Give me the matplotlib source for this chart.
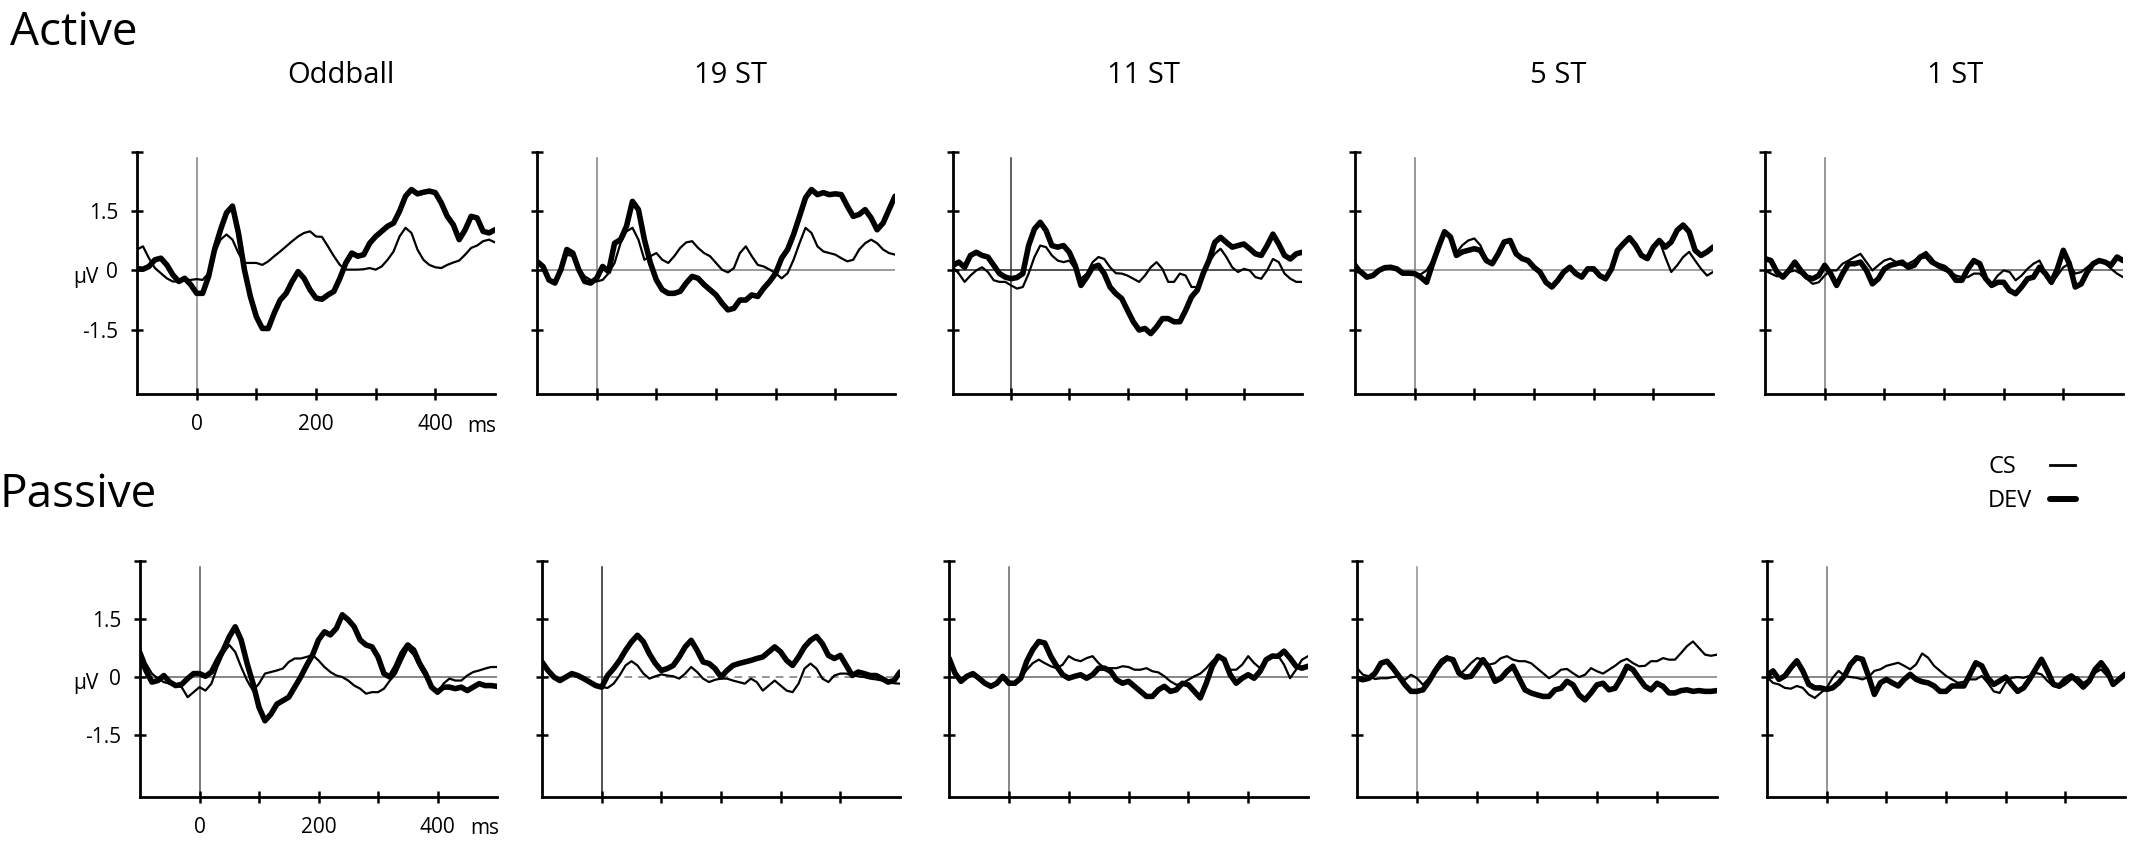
import numpy as np
import matplotlib
matplotlib.use("Agg")
import matplotlib.pyplot as plt
from matplotlib.lines import Line2D

plt.rcParams["font.family"] = ["Open Sans", "DejaVu Sans"]

W, H = 2133, 842          # output size in px (dpi 100)

# ------------------ DATA (µV, one value every 10 ms) ------------------ #
t_ms = np.arange(-100, 501, 10)
conditions = ["Oddball", "19 ST", "11 ST", "5 ST", "1 ST"]
row_names = ["Active", "Passive"]
ytick_vals = [-1.5, 0, 1.5, 3]
ytick_text = ["-1.5", "0", "1.5", ""]
xtick_vals = [0, 100, 200, 300, 400]
xtick_text = ["0", "", "200", "", "400"]

# Active
act_odd_cs = [0.53, 0.61, 0.31, 0.06, -0.07, -0.2, -0.28, -0.28, -0.24, -0.24,
              -0.22, -0.24, -0.07, 0.44, 0.78, 0.91, 0.78, 0.44, 0.19, 0.19,
              0.19, 0.14, 0.23, 0.36, 0.48, 0.61, 0.74, 0.86, 0.95, 0.99,
              0.86, 0.85, 0.61, 0.36, 0.14, 0.02, 0.02, 0.02, 0.03, 0.06,
              0.02, 0.1, 0.27, 0.48, 0.86, 1.08, 0.95, 0.53, 0.27, 0.14,
              0.08, 0.06, 0.14, 0.2, 0.25, 0.4, 0.57, 0.63, 0.74, 0.78,
              0.71]
act_odd_dev = [0.05, 0.03, 0.1, 0.27, 0.31, 0.14, -0.11, -0.28, -0.2, -0.36,
               -0.58, -0.58, -0.15, 0.53, 1.03, 1.46, 1.63, 0.95, 0.02, -0.66,
               -1.17, -1.47, -1.47, -1.08, -0.75, -0.58, -0.28, -0.03, -0.2, -0.49,
               -0.7, -0.73, -0.62, -0.53, -0.2, 0.19, 0.44, 0.36, 0.4, 0.69,
               0.86, 0.99, 1.12, 1.2, 1.5, 1.88, 2.05, 1.94, 1.98, 2.01,
               1.97, 1.71, 1.37, 1.16, 0.78, 1.03, 1.37, 1.33, 0.99, 0.95,
               1.03]
act_19_cs = [0.23, 0.1, -0.2, -0.28, 0.02, 0.4, 0.36, 0.06, -0.15, -0.24,
             -0.28, -0.24, -0.07, 0.19, 0.69, 0.99, 1.08, 0.78, 0.27, 0.36,
             0.44, 0.27, 0.19, 0.36, 0.57, 0.71, 0.74, 0.57, 0.44, 0.36,
             0.19, 0.02, -0.05, 0.06, 0.44, 0.61, 0.36, 0.14, 0.1, 0.02,
             -0.07, -0.2, -0.07, 0.27, 0.69, 1.08, 0.95, 0.61, 0.48, 0.44,
             0.4, 0.31, 0.23, 0.27, 0.53, 0.69, 0.78, 0.69, 0.53, 0.44,
             0.4]
act_19_dev = [0.23, 0.1, -0.24, -0.32, 0.02, 0.53, 0.44, 0.02, -0.28, -0.32,
              -0.2, 0.1, -0.03, 0.69, 0.78, 1.12, 1.75, 1.54, 0.78, 0.19,
              -0.24, -0.49, -0.58, -0.58, -0.53, -0.32, -0.15, -0.2, -0.36, -0.49,
              -0.62, -0.83, -1.0, -0.96, -0.75, -0.75, -0.62, -0.66, -0.45, -0.28,
              -0.07, 0.31, 0.53, 0.91, 1.37, 1.84, 2.05, 1.92, 1.97, 1.92,
              1.94, 1.92, 1.63, 1.37, 1.42, 1.54, 1.33, 1.03, 1.2, 1.54,
              1.88]
act_11_cs = [0.08, -0.08, -0.29, -0.13, 0.0, 0.08, -0.04, -0.25, -0.29, -0.29,
             -0.38, -0.46, -0.42, -0.08, 0.34, 0.63, 0.59, 0.38, 0.25, 0.21,
             0.25, 0.04, -0.21, -0.08, 0.21, 0.34, 0.29, 0.08, -0.07, -0.08,
             -0.13, -0.21, -0.29, -0.13, 0.08, 0.21, 0.04, -0.29, -0.29, -0.08,
             -0.13, -0.42, -0.42, -0.17, 0.21, 0.42, 0.55, 0.34, 0.08, -0.04,
             0.04, 0.0, -0.17, -0.21, 0.0, 0.29, 0.21, -0.08, -0.21, -0.29,
             -0.29]
act_11_dev = [0.13, 0.21, 0.08, 0.38, 0.46, 0.38, 0.34, 0.13, -0.08, -0.17,
              -0.21, -0.18, -0.08, 0.63, 1.05, 1.22, 1.01, 0.63, 0.59, 0.63,
              0.46, 0.13, -0.38, -0.17, 0.08, 0.13, -0.08, -0.42, -0.59, -0.71,
              -1.01, -1.3, -1.51, -1.47, -1.6, -1.43, -1.22, -1.22, -1.3, -1.3,
              -1.01, -0.67, -0.5, -0.08, 0.25, 0.71, 0.84, 0.71, 0.59, 0.63,
              0.67, 0.55, 0.42, 0.38, 0.63, 0.92, 0.67, 0.38, 0.29, 0.42,
              0.46]
act_5_cs = [0.2, 0.0, -0.15, -0.13, 0.0, 0.07, 0.08, 0.04, -0.07, -0.07,
            -0.08, -0.1, 0.0, 0.25, 0.62, 0.95, 0.82, 0.45, 0.64, 0.76,
            0.81, 0.64, 0.3, 0.17, 0.42, 0.7, 0.74, 0.42, 0.32, 0.25,
            0.1, -0.04, -0.28, -0.38, -0.23, -0.02, 0.1, -0.04, -0.15, 0.02,
            0.0, -0.17, -0.25, 0.02, 0.48, 0.7, 0.85, 0.62, 0.4, 0.32,
            0.59, 0.76, 0.34, -0.04, 0.13, 0.34, 0.47, 0.25, 0.04, -0.13,
            -0.04]
act_5_dev = [0.04, -0.04, -0.17, -0.13, 0.0, 0.07, 0.08, 0.04, -0.07, -0.07,
             -0.08, -0.17, -0.3, 0.17, 0.59, 0.98, 0.85, 0.38, 0.47, 0.51,
             0.55, 0.51, 0.25, 0.17, 0.42, 0.72, 0.76, 0.42, 0.3, 0.25,
             0.08, -0.04, -0.3, -0.42, -0.25, -0.04, 0.08, -0.08, -0.17, 0.04,
             0.04, -0.13, -0.21, 0.04, 0.51, 0.68, 0.83, 0.64, 0.38, 0.3,
             0.59, 0.76, 0.59, 0.72, 1.02, 1.15, 0.98, 0.51, 0.38, 0.47,
             0.59]
act_1_cs = [0.0, -0.08, -0.15, -0.13, -0.04, 0.0, -0.08, -0.21, -0.34, -0.3,
            -0.13, 0.0, 0.0, 0.17, 0.25, 0.34, 0.42, 0.21, 0.0, 0.13,
            0.25, 0.3, 0.21, 0.13, 0.17, 0.25, 0.38, 0.47, 0.3, 0.08,
            0.0, -0.04, -0.13, -0.17, -0.17, -0.08, -0.08, -0.25, -0.34, -0.13,
            0.0, -0.04, -0.25, -0.13, 0.04, 0.17, 0.25, -0.04, -0.34, -0.13,
            0.08, 0.17, -0.08, -0.04, 0.08, 0.21, 0.25, 0.19, 0.04, -0.08,
            -0.17]
act_1_dev = [0.3, 0.25, -0.04, -0.17, 0.0, 0.21, 0.0, -0.17, -0.21, -0.13,
             0.13, -0.08, -0.38, -0.08, 0.17, 0.17, 0.21, 0.0, -0.34, -0.21,
             0.04, 0.13, 0.17, 0.21, 0.08, 0.13, 0.34, 0.38, 0.21, 0.13,
             0.08, -0.04, -0.25, -0.25, 0.04, 0.25, 0.17, -0.21, -0.38, -0.3,
             -0.3, -0.51, -0.59, -0.42, -0.21, -0.17, 0.08, -0.08, -0.3, 0.04,
             0.51, 0.17, -0.42, -0.34, -0.04, 0.17, 0.25, 0.21, 0.13, 0.34,
             0.25]

# Passive
pas_odd_cs = [0.74, 0.35, 0.09, -0.04, -0.13, -0.17, -0.22, -0.26, -0.52, -0.39,
              -0.26, -0.35, -0.17, 0.26, 0.61, 0.83, 0.65, 0.26, -0.09, -0.35,
              -0.17, 0.09, 0.13, 0.17, 0.22, 0.39, 0.48, 0.48, 0.52, 0.57,
              0.43, 0.26, 0.13, 0.04, 0.0, -0.09, -0.22, -0.3, -0.43, -0.39,
              -0.39, -0.3, -0.09, 0.09, 0.43, 0.74, 0.57, 0.26, 0.0, -0.26,
              -0.43, -0.17, -0.04, -0.09, -0.09, 0.04, 0.13, 0.17, 0.22, 0.26,
              0.26]
pas_odd_dev = [0.52, 0.17, -0.13, -0.09, 0.04, -0.13, -0.22, -0.19, -0.04, 0.09,
               0.09, 0.02, 0.13, 0.43, 0.7, 1.04, 1.3, 0.96, 0.35, -0.17,
               -0.78, -1.13, -0.96, -0.7, -0.61, -0.52, -0.26, 0.0, 0.3, 0.57,
               0.96, 1.17, 1.09, 1.26, 1.61, 1.48, 1.3, 0.96, 0.83, 0.78,
               0.52, 0.09, 0.0, 0.26, 0.61, 0.83, 0.7, 0.35, 0.09, -0.26,
               -0.39, -0.26, -0.26, -0.3, -0.26, -0.35, -0.26, -0.17, -0.22, -0.22,
               -0.24]
pas_19_cs = [0.35, 0.16, 0.0, -0.09, -0.02, 0.07, 0.03, -0.06, -0.15, -0.23,
             -0.26, -0.28, -0.17, 0.04, 0.3, 0.41, 0.3, 0.09, -0.04, 0.02,
             0.07, 0.04, 0.02, -0.04, 0.09, 0.26, 0.13, -0.04, -0.13, -0.07,
             -0.04, -0.04, -0.09, -0.13, -0.17, -0.04, -0.13, -0.35, -0.22, -0.09,
             -0.22, -0.35, -0.39, -0.17, 0.22, 0.35, 0.22, -0.04, -0.13, 0.04,
             0.09, 0.09, 0.04, 0.02, 0.0, -0.04, -0.06, -0.09, -0.13, -0.16,
             -0.17]
pas_19_dev = [0.39, 0.17, 0.0, -0.09, 0.0, 0.09, 0.04, -0.04, -0.13, -0.22,
              -0.26, 0.04, 0.22, 0.43, 0.69, 0.91, 1.08, 0.91, 0.6, 0.35,
              0.17, 0.22, 0.3, 0.52, 0.78, 0.95, 0.69, 0.39, 0.35, 0.22,
              0.0, 0.17, 0.3, 0.35, 0.39, 0.43, 0.48, 0.52, 0.65, 0.78,
              0.65, 0.43, 0.3, 0.52, 0.78, 0.95, 1.05, 0.86, 0.56, 0.48,
              0.56, 0.3, 0.04, 0.13, 0.09, 0.04, 0.04, -0.04, -0.13, -0.09,
              0.13]
pas_11_cs = [0.45, 0.06, -0.11, 0.03, 0.09, -0.03, -0.16, -0.2, -0.14, -0.03,
             -0.11, -0.16, -0.03, 0.19, 0.36, 0.45, 0.36, 0.28, 0.23, 0.32,
             0.54, 0.45, 0.41, 0.49, 0.54, 0.36, 0.23, 0.23, 0.23, 0.28,
             0.26, 0.19, 0.19, 0.23, 0.15, 0.12, 0.02, -0.11, -0.2, -0.16,
             -0.07, 0.02, 0.09, 0.23, 0.41, 0.54, 0.41, 0.19, 0.19, 0.32,
             0.54, 0.36, 0.23, 0.45, 0.58, 0.55, 0.32, -0.03, 0.19, 0.45,
             0.54]
pas_11_dev = [0.49, 0.1, -0.11, 0.02, 0.09, -0.03, -0.16, -0.24, -0.16, 0.02,
              -0.16, -0.16, -0.03, 0.41, 0.71, 0.92, 0.88, 0.54, 0.28, 0.06,
              -0.03, 0.02, 0.06, -0.03, 0.06, 0.23, 0.23, 0.15, -0.07, -0.16,
              -0.11, -0.24, -0.37, -0.5, -0.5, -0.33, -0.24, -0.37, -0.33, -0.16,
              -0.2, -0.37, -0.54, -0.16, 0.28, 0.54, 0.45, 0.06, -0.16, -0.03,
              0.06, -0.03, 0.15, 0.45, 0.54, 0.54, 0.67, 0.49, 0.28, 0.23,
              0.28]
pas_5_cs = [0.23, 0.06, 0.02, -0.05, -0.03, -0.03, 0.0, 0.02, -0.07, 0.06,
            -0.03, -0.2, -0.03, 0.23, 0.45, 0.54, 0.36, 0.06, 0.19, 0.36,
            0.49, 0.45, 0.32, 0.36, 0.49, 0.54, 0.45, 0.41, 0.41, 0.36,
            0.23, 0.1, -0.03, 0.06, 0.19, 0.21, 0.1, 0.0, 0.06, 0.23,
            0.15, 0.09, 0.19, 0.29, 0.41, 0.47, 0.36, 0.28, 0.29, 0.41,
            0.41, 0.49, 0.45, 0.45, 0.62, 0.8, 0.92, 0.75, 0.58, 0.55,
            0.58]
pas_5_dev = [-0.03, -0.07, -0.03, 0.1, 0.36, 0.41, 0.23, 0.02, -0.2, -0.37,
             -0.37, -0.33, -0.11, 0.15, 0.36, 0.49, 0.45, 0.1, 0.0, 0.02,
             0.23, 0.45, 0.23, -0.11, -0.03, 0.15, 0.28, -0.03, -0.33, -0.41,
             -0.46, -0.5, -0.5, -0.33, -0.29, -0.11, -0.2, -0.46, -0.59, -0.41,
             -0.2, -0.16, -0.33, -0.29, -0.03, 0.28, 0.19, -0.03, -0.24, -0.33,
             -0.16, -0.24, -0.41, -0.41, -0.35, -0.33, -0.37, -0.35, -0.37, -0.37,
             -0.35]
pas_1_cs = [0.0, -0.15, -0.19, -0.28, -0.3, -0.23, -0.28, -0.45, -0.54, -0.41,
            -0.28, -0.02, 0.16, 0.03, 0.0, -0.02, -0.06, 0.0, 0.16, 0.2,
            0.29, 0.33, 0.37, 0.29, 0.2, 0.33, 0.61, 0.5, 0.29, 0.16,
            0.03, -0.06, -0.15, -0.12, -0.06, -0.06, 0.03, -0.15, -0.37, -0.41,
            -0.15, -0.02, 0.0, -0.02, 0.03, 0.11, 0.07, -0.1, -0.23, -0.28,
            -0.19, -0.06, 0.0, -0.15, -0.06, 0.11, 0.2, 0.03, -0.15, -0.02,
            0.07]
pas_1_dev = [0.03, 0.16, -0.06, 0.03, 0.24, 0.42, 0.16, -0.19, -0.28, -0.28,
             -0.32, -0.28, -0.15, 0.03, 0.33, 0.5, 0.46, 0.03, -0.45, -0.15,
             -0.06, -0.15, -0.23, -0.06, 0.07, -0.06, -0.12, -0.15, -0.23, -0.37,
             -0.37, -0.23, -0.23, -0.23, 0.07, 0.37, 0.29, -0.02, -0.19, -0.1,
             0.0, -0.19, -0.37, -0.28, -0.06, 0.2, 0.46, 0.16, -0.19, -0.23,
             -0.06, 0.03, -0.1, -0.26, -0.1, 0.2, 0.37, 0.16, -0.19, -0.06,
             0.07]

cs_rows = [[act_odd_cs, act_19_cs, act_11_cs, act_5_cs, act_1_cs],
           [pas_odd_cs, pas_19_cs, pas_11_cs, pas_5_cs, pas_1_cs]]
dev_rows = [[act_odd_dev, act_19_dev, act_11_dev, act_5_dev, act_1_dev],
            [pas_odd_dev, pas_19_dev, pas_11_dev, pas_5_dev, pas_1_dev]]

# ------------------ LAYOUT (pixels) ------------------ #
col_x = [[(137, 495), (537, 895), (953, 1302), (1355, 1713), (1765, 2123)],
         [(140, 497), (542, 900), (949, 1308), (1357, 1717), (1767, 2125)]]
row_y = [(152, 394), (561, 797)]
row_ylim = [(-3.13, 3.0), (-3.1, 3.0)]
# zero-line style per panel (None = no line), vline colour per panel
zero_style = [[None, ("#808080", "-"), ("#222222", "-"), ("#8a8a8a", "-"), ("#555555", "-")],
              [("#666666", "-"), ("#777777", (0, (5, 4))), ("#666666", "-"), ("#808080", "-"), ("#666666", "-")]]
vline_col = [["#808080", "#808080", "#333333", "#7a7a7a", "#7a7a7a"],
             ["#555555", "#222222", "#666666", "#909090", "#777777"]]

CS_LW, DEV_LW = 1.6, 4.0
TICK_FS = 15


def fig_box(x0, x1, ytop, ybot):
    return [x0 / W, 1 - ybot / H, (x1 - x0) / W, (ybot - ytop) / H]


def fx(px):
    return px / W


def fy(px):
    return 1 - px / H


fig = plt.figure(figsize=(W / 100, H / 100), dpi=100)

for r in range(2):
    for c in range(5):
        ax = fig.add_axes(fig_box(*col_x[r][c], *row_y[r]))
        ax.set_xlim(-100, 500)
        ax.set_ylim(*row_ylim[r])
        for s in ("top", "right"):
            ax.spines[s].set_visible(False)
        for s in ("left", "bottom"):
            ax.spines[s].set_linewidth(2.0)
            ax.spines[s].set_capstyle("projecting")
        ax.set_facecolor("none")

        zs = zero_style[r][c]
        if zs is not None:
            ax.axhline(0, color=zs[0], lw=1.1, ls=zs[1], zorder=1)
        ylo, yhi = row_ylim[r]
        ax.axvline(0, ymin=0, ymax=(2.85 - ylo) / (yhi - ylo),
                   color=vline_col[r][c], lw=1.1, zorder=1)

        ax.plot(t_ms, cs_rows[r][c], color="black", lw=CS_LW,
                solid_joinstyle="round", solid_capstyle="round", zorder=3)
        ax.plot(t_ms, dev_rows[r][c], color="black", lw=DEV_LW,
                solid_joinstyle="round", solid_capstyle="round", zorder=4)

        ax.set_yticks(ytick_vals)
        ax.set_xticks(xtick_vals)
        ax.tick_params(direction="inout", length=9, width=1.8,
                       labelsize=TICK_FS, pad=9)
        ax.tick_params(axis="x", pad=10)
        if c == 0:
            ax.set_yticklabels(ytick_text)
            ax.set_xticklabels(xtick_text)
        else:
            ax.set_yticklabels([])
            ax.set_xticklabels([])

# µV / ms unit labels next to the first column
fig.text(fx(73), fy(283), "µV", fontsize=TICK_FS, ha="left", va="baseline")
fig.text(fx(467), fy(432), "ms", fontsize=TICK_FS, ha="left", va="baseline")
fig.text(fx(73), fy(689), "µV", fontsize=TICK_FS, ha="left", va="baseline")
fig.text(fx(470), fy(834), "ms", fontsize=TICK_FS, ha="left", va="baseline")

# condition titles
title_x = [341, 730, 1143, 1558, 1955]
for name, x in zip(conditions, title_x):
    fig.text(fx(x), fy(83), name, fontsize=21, ha="center", va="baseline")

# row labels
fig.text(fx(10), fy(45), row_names[0], fontsize=33, ha="left", va="baseline")
fig.text(fx(0), fy(507), row_names[1], fontsize=33, ha="left", va="baseline")

# legend (drawn by hand: labels left, line keys right)
fig.text(fx(1988), fy(473), "CS", fontsize=17, ha="left", va="baseline")
fig.text(fx(1988), fy(507), "DEV", fontsize=17, ha="left", va="baseline")
fig.add_artist(Line2D([fx(2050), fx(2075)], [fy(465), fy(465)],
                      transform=fig.transFigure, color="black", lw=2.0))
fig.add_artist(Line2D([fx(2050), fx(2076)], [fy(499), fy(499)],
                      transform=fig.transFigure, color="black", lw=4.3,
                      solid_capstyle="round"))

fig.savefig("out.png", dpi=100, facecolor="white")
